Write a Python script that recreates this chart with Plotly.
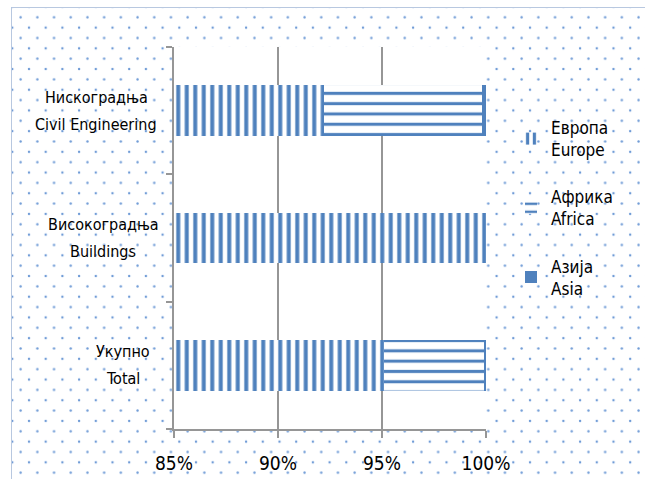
import base64
import plotly.graph_objects as go

categories = ["Укупно<br>Total", "Високоградња<br>Buildings", "Нискоградња<br>Civil Engineering"]
series_names = ["Европа<br>Europe", "Африка<br>Africa", "Азија<br>Asia"]
europe = [95.1, 100.0, 92.2]
africa = [4.8, 0.0, 7.6]
asia = [0.1, 0.0, 0.2]
x_ticks = [85, 90, 95, 100]

W, H = 645, 479
ML, MR, MT, MB = 174, 159, 47, 50
PW, PH = W - ML - MR, H - MT - MB

BLUE = "#4f81bd"
FONT = "DejaVu Sans Condensed, DejaVu Sans, sans-serif"

# dotted chart-area background as an SVG pattern image
svg = f"""<svg xmlns='http://www.w3.org/2000/svg' width='{W}' height='{H}'>
<defs><pattern id='p' x='8.3' y='2' width='16.7' height='20.7' patternUnits='userSpaceOnUse'>
<circle cx='4' cy='5' r='1.2' fill='#6f9bd6'/><circle cx='12.35' cy='15.35' r='1.2' fill='#6f9bd6'/>
</pattern></defs>
<rect x='0' y='0' width='{W}' height='{H}' fill='white'/>
<rect x='11' y='7' width='{W}' height='{H}' fill='url(#p)'/>
<path d='M11.5,{H} V7.5 H{W}' fill='none' stroke='#b8c8e0' stroke-width='1'/>
</svg>"""
uri = "data:image/svg+xml;base64," + base64.b64encode(svg.encode()).decode()

fig = go.Figure()
patterns = [
    dict(shape="|", size=8.5, solidity=0.47, fgcolor=BLUE, bgcolor="white", fillmode="replace"),
    dict(shape="-", size=10.3, solidity=0.3, fgcolor=BLUE, bgcolor="white", fillmode="replace"),
    dict(shape="", fgcolor=BLUE),
]
for name, vals, pat in zip(series_names, [europe, africa, asia], patterns):
    fig.add_trace(go.Bar(
        y=categories, x=vals, name=name, orientation="h",
        marker=dict(color=BLUE, line=dict(width=0), pattern=pat),
        legendgroup=name,
    ))

# category labels: two centred lines each, wider line spacing as in the original
label_center = [123, 103, 96]
for cat, cx in zip(categories, label_center):
    lines = cat.split("<br>")
    for i, line in enumerate(lines):
        fig.add_annotation(
            x=0, xref="paper", y=cat, yref="y", text=line, showarrow=False,
            xanchor="center", yanchor="middle", align="center",
            xshift=cx - ML, yshift=13.5 - 27 * i,
            font=dict(family=FONT, size=16, color="black"),
        )

fig.update_layout(
    width=W, height=H,
    margin=dict(l=ML, r=MR, t=MT, b=MB, pad=0, autoexpand=False),
    barmode="stack", bargap=0.6,
    paper_bgcolor="white", plot_bgcolor="white",
    font=dict(family=FONT, size=16, color="black"),
    showlegend=True,
    legend=dict(
        x=(511 - ML) / PW, xanchor="left", y=1 - (110 - MT) / PH, yanchor="top",
        traceorder="grouped", tracegroupgap=22,
        bgcolor="rgba(0,0,0,0)", font=dict(family=FONT, size=17, color="black"),
        itemwidth=30,
    ),
    images=[dict(
        source=uri, xref="paper", yref="paper",
        x=-ML / PW, y=1 + MT / PH, sizex=W / PW, sizey=H / PH,
        xanchor="left", yanchor="top", sizing="stretch", layer="below",
    )],
    shapes=[dict(
        type="rect", xref="x domain", yref="y domain", x0=0, x1=1, y0=0, y1=1,
        fillcolor="white", line=dict(width=0), layer="below",
    )],
)
fig.update_xaxes(
    range=[85, 100], tickvals=x_ticks, ticktext=[f"{v}%" for v in x_ticks],
    showgrid=True, gridcolor="#969696", gridwidth=1.5,
    showline=True, linecolor="#969696", linewidth=1.5,
    ticks="outside", ticklen=7, tickcolor="#969696", tickwidth=1.5,
    ticklabelstandoff=9, automargin=False,
    tickfont=dict(family=FONT, size=19, color="black"), zeroline=False,
)
fig.update_yaxes(
    showticklabels=False, showgrid=False, automargin=False,
    showline=True, linecolor="#969696", linewidth=1.5,
    ticks="outside", ticklen=6, tickcolor="#969696", tickwidth=1.5,
    tickson="boundaries",
)
fig.write_html(
    "out.html",
    config={"displayModeBar": False},
    post_script="document.body.style.margin='0';",
)
